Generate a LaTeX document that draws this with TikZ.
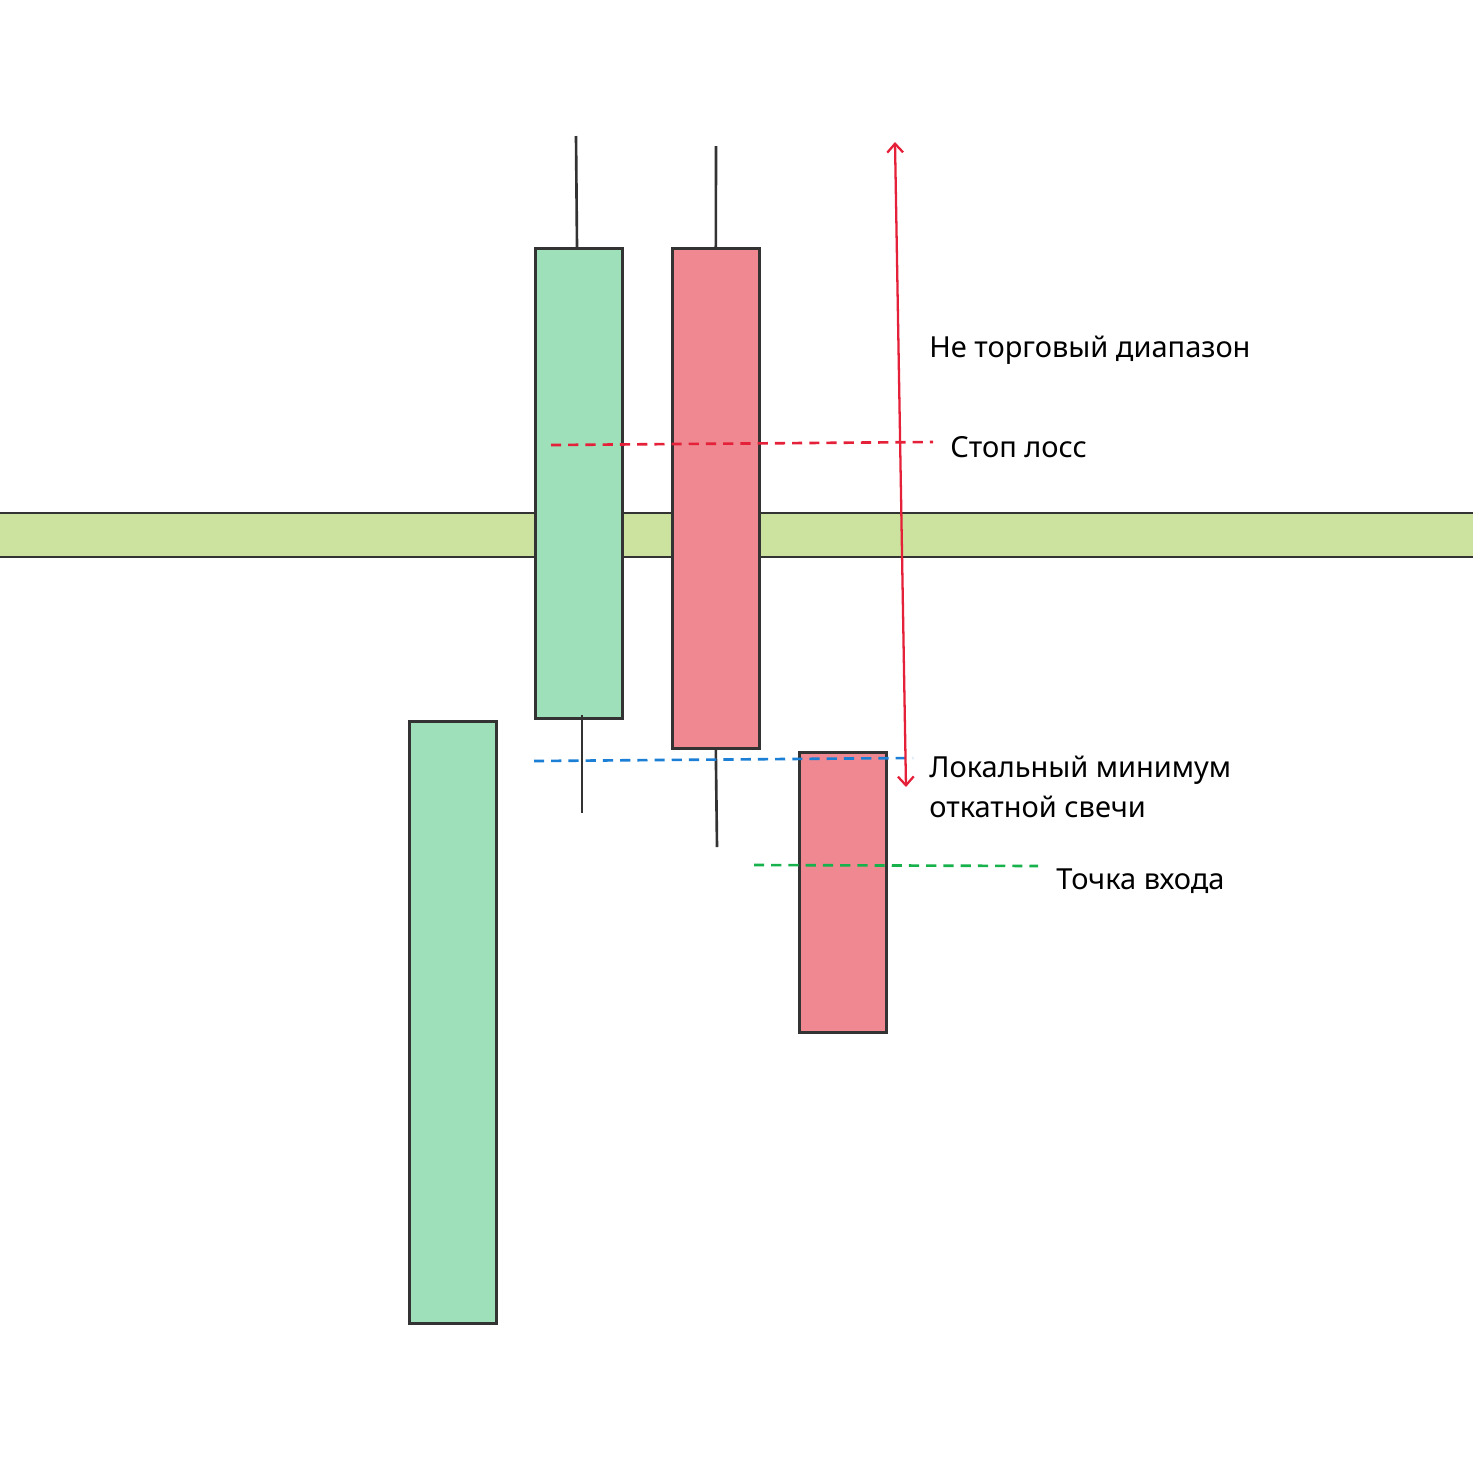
\documentclass[tikz,border=0pt]{standalone}
\usepackage{fontspec}
\setmainfont{Noto Sans}
\usetikzlibrary{arrows.meta, positioning}
\definecolor{bullgreen}{HTML}{9DE0BA}
\definecolor{bearred}{HTML}{EF8890}
\definecolor{zonegreen}{HTML}{CCE3A0}
\definecolor{edgegray}{HTML}{333333}
\definecolor{stopred}{HTML}{E5213A}
\definecolor{lowblue}{HTML}{1C7FD6}
\definecolor{entrygreen}{HTML}{17B24C}

\tikzset{
    candle/.style={draw=edgegray, line width=1.5pt, rectangle, inner sep=0pt,
        anchor=north west, minimum width=1.74cm},
    wick/.style={draw=edgegray, line width=1.5pt},
    level/.style={dashed, line width=1.5pt, dash pattern=on 5.8pt off 4pt},
    label/.style={anchor=base west, inner sep=0pt, font=\fontsize{16.5}{24}\selectfont, align=left}
}

\begin{document}
\begin{tikzpicture}[x=0.02cm,y=-0.02cm]
    \useasboundingbox[fill=white] (0,0) rectangle (1473,1475);

    % Resistance zone
    \fill[zonegreen] (-5,513) rectangle (1478,557);
    \draw[wick] (-5,513) -- (1478,513);
    \draw[wick] (-5,557) -- (1478,557);

    % Candles
    \node[candle, fill=bullgreen, minimum height=12.04cm] (c1) at (408,720) {};
    \node[candle, fill=bullgreen, minimum height=9.4cm] (c2) at (534,247) {};
    \node[candle, fill=bearred, minimum height=10cm] (c3) at (671,247) {};
    \node[candle, fill=bearred, minimum height=5.6cm] (c4) at (798,751) {};

    % Wicks
    \coordinate (c2high) at (576,136);
    \coordinate (c2low) at (582,813);
    \coordinate (c3high) at (716,146);
    \coordinate (c3low) at (717,847);
    \draw[wick] (c2.north -| c2high) ++(1,0) -- (c2high);
    \draw[wick] (582,715) -- (c2low);
    \draw[wick] (c3.north) -- (c3high);
    \draw[wick] (c3.south) -- (c3low);

    % Levels
    \coordinate (stopA) at (551,445);
    \coordinate (stopB) at (933,442);
    \coordinate (lowA) at (534,761);
    \coordinate (lowB) at (913,758);
    \coordinate (entryA) at (754,865);
    \coordinate (entryB) at (1038,866);
    \draw[level, stopred] (stopA) -- (stopB);
    \draw[level, lowblue] (lowA) -- (lowB);
    \draw[level, entrygreen] (entryA) -- (entryB);

    % Range arrow
    \coordinate (rangetop) at (895,142);
    \coordinate (rangebot) at (906,787);
    \draw[stopred, line width=1.3pt, {Straight Barb[length=5pt,width=9pt]}-{Straight Barb[length=5pt,width=9pt]}] (rangetop) -- (rangebot);

    % Labels
    \node[label] (range) at (929,357) {Не торговый диапазон};
    \node[label] (stop) at (950,457) {Стоп лосс};
    \node[label] (low) at (929,777) {Локальный минимум};
    \node[label] (low2) at (929,817) {откатной свечи};
    \node[label] (entry) at (1056,889) {Точка входа};
\end{tikzpicture}
\end{document}
